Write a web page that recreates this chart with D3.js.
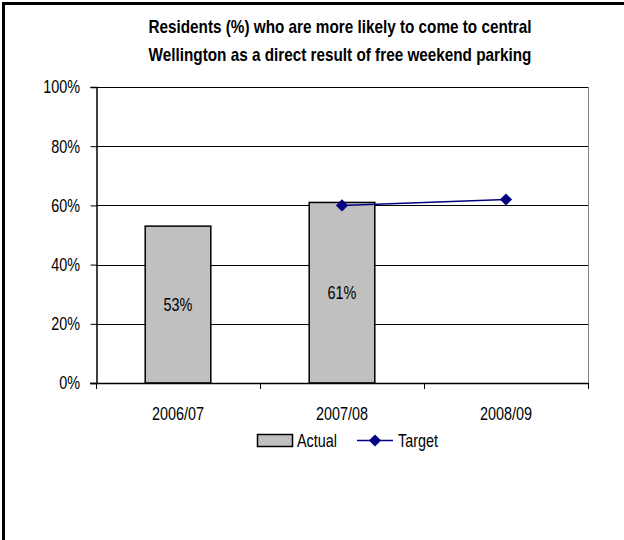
<!DOCTYPE html>
<html>
<head>
<meta charset="utf-8">
<script src="https://cdn.jsdelivr.net/npm/d3@7"></script>
<style>
  html, body { margin: 0; padding: 0; background: #fff; }
  svg { display: block; }
  text { font-family: "Liberation Sans Narrow", "Arial Narrow", "Liberation Sans", Arial, sans-serif; fill: #000; }
</style>
</head>
<body>
<svg id="chart" width="624" height="540"></svg>
<script>
// Survey results by financial year
const categories = ["2006/07", "2007/08", "2008/09"];
const actualValues = [53, 61, null];
const targetValues = [null, 60, 62];
const yTicks = [0, 20, 40, 60, 80, 100];
const titleLines = [
  "Residents (%) who are more likely to come to central",
  "Wellington as a direct result of free weekend parking"
];

const svg = d3.select("#chart");
const NARROW = 0.8;   // horizontal squeeze for a narrow-looking face
const FS = 18;

// Places a horizontally condensed text label at (x, y)
function label(parent, x, y, str, opts = {}) {
  const g = parent.append("g")
    .attr("transform", `translate(${x},${y}) scale(${opts.sx || NARROW},1)`);
  g.append("text")
    .attr("text-anchor", opts.anchor || "start")
    .attr("dy", opts.dy || null)
    .attr("font-size", opts.size || FS)
    .attr("font-weight", opts.weight || null)
    .text(str);
  return g;
}

// Outer chart frame (runs off the right and bottom edges)
svg.append("rect")
  .attr("x", 3.5).attr("y", 3.5)
  .attr("width", 640).attr("height", 560)
  .attr("fill", "#fff").attr("stroke", "#000").attr("stroke-width", 3);

const plot = { left: 96, right: 588, top: 87, bottom: 383 };

const x = d3.scaleBand()
  .domain(categories)
  .range([plot.left, plot.right])
  .paddingInner(0.6).paddingOuter(0.3);

const xCenter = d => x(d) + x.bandwidth() / 2;

const y = d3.scaleLinear().domain([0, 100]).range([plot.bottom, plot.top]);

// Title
const titleG = svg.append("g");
titleLines.forEach((t, i) => {
  label(titleG, 340, 33 + i * 28, t, { anchor: "middle", size: 18, weight: "bold", sx: 0.85 });
});

// Horizontal gridlines
svg.append("g").selectAll("line")
  .data(yTicks.filter(t => t > 0))
  .join("line")
  .attr("x1", plot.left).attr("x2", plot.right)
  .attr("y1", d => Math.round(y(d)) + 0.5).attr("y2", d => Math.round(y(d)) + 0.5)
  .attr("stroke", "#000").attr("stroke-width", 1);

// Plot area right border
svg.append("line")
  .attr("x1", plot.right + 0.5).attr("x2", plot.right + 0.5)
  .attr("y1", plot.top).attr("y2", plot.bottom)
  .attr("stroke", "#808080").attr("stroke-width", 1);

// Bars
const actualData = categories.map((c, i) => ({ c, v: actualValues[i] })).filter(d => d.v != null);
svg.append("g").selectAll("rect")
  .data(actualData)
  .join("rect")
  .attr("x", d => x(d.c))
  .attr("y", d => y(d.v))
  .attr("width", x.bandwidth())
  .attr("height", d => y(0) - y(d.v))
  .attr("fill", "#c0c0c0")
  .attr("stroke", "#000").attr("stroke-width", 1.5);

// Value labels in bar centres
const valG = svg.append("g");
actualData.forEach(d => {
  label(valG, xCenter(d.c), (y(d.v) + y(0)) / 2, d.v + "%", { anchor: "middle", dy: "0.35em" });
});

// Y axis
const yAxis = d3.axisLeft(y)
  .tickValues(yTicks)
  .tickSize(6)
  .tickFormat("");
const yG = svg.append("g")
  .attr("transform", `translate(${plot.left + 0.5},0)`)
  .call(yAxis);
yG.select(".domain").attr("stroke", "#000").attr("stroke-width", 1.5);
yG.selectAll(".tick line").attr("stroke", "#000");
const yLab = svg.append("g");
yTicks.forEach(t => {
  label(yLab, 80, y(t), t + "%", { anchor: "end", dy: "0.35em" });
});

// X axis with ticks between categories
const xLine = svg.append("g");
xLine.append("line")
  .attr("x1", plot.left - 6).attr("x2", plot.right)
  .attr("y1", plot.bottom + 0.5).attr("y2", plot.bottom + 0.5)
  .attr("stroke", "#000").attr("stroke-width", 1.5);
const boundaries = d3.range(categories.length + 1).map(i => plot.left + i * (plot.right - plot.left) / categories.length);
xLine.selectAll("line.tick")
  .data(boundaries)
  .join("line")
  .attr("class", "tick")
  .attr("x1", d => Math.round(d) + 0.5).attr("x2", d => Math.round(d) + 0.5)
  .attr("y1", plot.bottom).attr("y2", plot.bottom + 6)
  .attr("stroke", "#000").attr("stroke-width", 1);
const xLab = svg.append("g");
categories.forEach(c => {
  label(xLab, xCenter(c), 420, c, { anchor: "middle" });
});

// Target line with diamond markers
const targetData = categories.map((c, i) => ({ c, v: targetValues[i] })).filter(d => d.v != null);
const navy = "#000080";
svg.append("path")
  .datum(targetData)
  .attr("fill", "none")
  .attr("stroke", navy).attr("stroke-width", 1.5)
  .attr("d", d3.line().x(d => xCenter(d.c)).y(d => y(d.v)));
const diamond = d3.symbol().type(d3.symbolDiamond2).size(95);
svg.append("g").selectAll("path")
  .data(targetData)
  .join("path")
  .attr("transform", d => `translate(${xCenter(d.c)},${y(d.v)})`)
  .attr("d", diamond)
  .attr("fill", navy);

// Legend
const legend = svg.append("g");
legend.append("rect")
  .attr("x", 257.5).attr("y", 434.5).attr("width", 35).attr("height", 12)
  .attr("fill", "#c0c0c0").attr("stroke", "#000").attr("stroke-width", 1.5);
label(legend, 297, 447, "Actual");
legend.append("line")
  .attr("x1", 357).attr("x2", 393).attr("y1", 440.5).attr("y2", 440.5)
  .attr("stroke", navy).attr("stroke-width", 1.5);
legend.append("path")
  .attr("transform", "translate(375,440.5)")
  .attr("d", diamond)
  .attr("fill", navy);
label(legend, 398, 447, "Target");
</script>
</body>
</html>
